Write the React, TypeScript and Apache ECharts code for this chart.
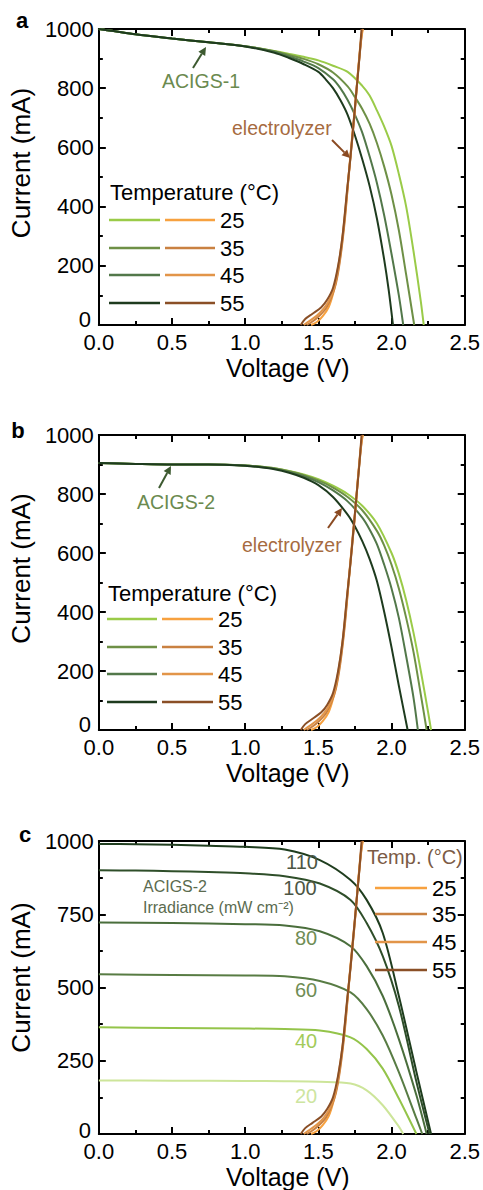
import React, { useEffect, useRef } from "react";
import * as echarts from "echarts";

// ---------- data ----------
const tempLabels = ["25", "35", "45", "55"];
const irrLabels = ["110", "100", "80", "60", "40", "20"];

// Panel a: ACIGS-1 I-V curves (V, mA)
const a25 = [[0, 1000], [0.1, 993], [0.25, 982], [0.5, 968], [0.75, 955], [1.0, 942], [1.2, 926], [1.3, 916], [1.4, 906], [1.5, 894], [1.6, 876], [1.7, 855], [1.8, 808], [1.85, 775], [1.9, 725], [1.95, 670], [2.0, 605], [2.05, 510], [2.1, 400], [2.15, 250], [2.2, 80], [2.22, 0]];
const a35 = [[0, 1000], [0.1, 993], [0.25, 982], [0.5, 968], [0.75, 955], [1.0, 942], [1.2, 925], [1.3, 912], [1.4, 899], [1.5, 881], [1.6, 853], [1.7, 806], [1.75, 770], [1.8, 730], [1.85, 680], [1.9, 615], [1.95, 535], [2.0, 440], [2.05, 320], [2.1, 170], [2.155, 0]];
const a45 = [[0, 1000], [0.1, 993], [0.25, 982], [0.5, 968], [0.75, 955], [1.0, 942], [1.2, 923], [1.3, 907], [1.4, 890], [1.5, 868], [1.6, 830], [1.65, 800], [1.7, 760], [1.75, 710], [1.8, 650], [1.85, 570], [1.9, 480], [1.95, 370], [2.0, 240], [2.05, 100], [2.08, 0]];
const a55 = [[0, 1000], [0.1, 993], [0.25, 982], [0.5, 968], [0.75, 955], [1.0, 941], [1.2, 920], [1.3, 902], [1.4, 881], [1.5, 855], [1.55, 830], [1.6, 800], [1.65, 760], [1.7, 710], [1.75, 640], [1.8, 560], [1.85, 470], [1.9, 360], [1.95, 220], [1.98, 120], [2.01, 0]];

// Panel b: ACIGS-2 I-V curves
const b25 = [[0, 905], [0.25, 902], [0.5, 900], [0.75, 900], [1.0, 897], [1.1, 893], [1.2, 887], [1.3, 878], [1.4, 866], [1.5, 850], [1.6, 828], [1.7, 800], [1.8, 760], [1.9, 700], [2.0, 600], [2.05, 530], [2.1, 440], [2.15, 330], [2.2, 200], [2.25, 60], [2.27, 0]];
const b35 = [[0, 905], [0.25, 902], [0.5, 900], [0.75, 900], [1.0, 897], [1.1, 893], [1.2, 887], [1.3, 877], [1.4, 864], [1.5, 846], [1.6, 822], [1.7, 790], [1.8, 745], [1.9, 675], [1.95, 625], [2.0, 560], [2.05, 480], [2.1, 380], [2.15, 265], [2.2, 120], [2.24, 0]];
const b45 = [[0, 905], [0.25, 902], [0.5, 900], [0.75, 900], [1.0, 897], [1.1, 892], [1.2, 886], [1.3, 875], [1.4, 860], [1.5, 840], [1.6, 812], [1.7, 775], [1.8, 720], [1.85, 680], [1.9, 630], [1.95, 560], [2.0, 480], [2.05, 380], [2.1, 250], [2.15, 110], [2.18, 0]];
const b55 = [[0, 905], [0.25, 902], [0.5, 900], [0.75, 900], [1.0, 896], [1.1, 891], [1.2, 884], [1.3, 872], [1.4, 855], [1.5, 830], [1.6, 790], [1.7, 730], [1.75, 690], [1.8, 640], [1.85, 580], [1.9, 505], [1.95, 400], [2.0, 280], [2.05, 150], [2.11, 0]];

// Panel c: ACIGS-2 at different irradiance (mW cm-2)
const c110 = [[0, 990], [0.25, 989], [0.5, 987], [0.75, 984], [1.0, 980], [1.27, 971], [1.51, 935], [1.72, 867], [1.83, 799], [1.94, 686], [2.05, 471], [2.17, 212], [2.27, 0]];
const c100 = [[0, 900], [0.25, 899], [0.5, 897], [0.75, 894], [1.0, 890], [1.27, 880], [1.51, 855], [1.72, 799], [1.83, 720], [1.94, 607], [2.05, 437], [2.17, 178], [2.26, 0]];
const c80 = [[0, 722], [0.5, 720], [1.0, 716], [1.27, 712], [1.51, 692], [1.72, 641], [1.83, 573], [1.94, 471], [2.05, 324], [2.17, 132], [2.24, 0]];
const c60 = [[0, 545], [0.5, 543], [1.0, 541], [1.27, 538], [1.51, 522], [1.72, 483], [1.83, 426], [1.94, 336], [2.05, 211], [2.17, 53], [2.21, 0]];
const c40 = [[0, 364], [0.5, 362], [1.0, 360], [1.27, 358], [1.51, 353], [1.72, 330], [1.83, 290], [1.94, 223], [2.05, 121], [2.17, 0]];
const c20 = [[0, 183], [0.5, 182], [1.0, 181], [1.27, 180], [1.51, 178], [1.72, 172], [1.83, 149], [1.94, 98], [2.05, 25], [2.08, 0]];

// Electrolyzer load curves at 25/35/45/55 °C
const e25 = [[1.45, 0], [1.49, 10], [1.53, 30], [1.57, 60], [1.6, 105], [1.63, 170], [1.66, 270], [1.69, 410], [1.715, 550], [1.735, 660], [1.755, 760], [1.775, 880], [1.79, 960], [1.805, 1000]];
const e35 = [[1.42, 0], [1.46, 12], [1.5, 28], [1.55, 55], [1.59, 95], [1.62, 140], [1.65, 225], [1.68, 350], [1.705, 490], [1.73, 620], [1.75, 730], [1.77, 850], [1.79, 950], [1.8, 1000]];
const e45 = [[1.4, 0], [1.44, 14], [1.49, 32], [1.54, 58], [1.58, 90], [1.61, 130], [1.64, 210], [1.67, 320], [1.7, 470], [1.725, 600], [1.745, 700], [1.765, 820], [1.785, 930], [1.8, 1000]];
const e55 = [[1.38, 0], [1.41, 20], [1.46, 38], [1.52, 60], [1.56, 85], [1.6, 125], [1.635, 200], [1.665, 300], [1.695, 450], [1.72, 570], [1.74, 680], [1.76, 790], [1.78, 900], [1.795, 1000]];

const xTicks = { min: 0, max: 2.5, interval: 0.5 };
const yZeroLabel = "0";

// ---------- styling ----------
const FONT = "'Liberation Sans', Arial, sans-serif";
const greenColors = ["#9acb48", "#6e9046", "#52784a", "#1e3b1e"];
const orangeColors = ["#f7a13f", "#c98141", "#e29549", "#8a4f26"];
const irrColors = ["#1f3d1e", "#2e4e29", "#4a6e3c", "#587c44", "#94c44a", "#cde59a"];
const irrTextColors = ["#4c5644", "#4c5644", "#6f8d55", "#6f8d55", "#a3cb5a", "#cde5a0"];

const grids = [
  { left: 96, top: 29, width: 370, height: 296 },
  { left: 96, top: 435, width: 370, height: 295 },
  { left: 96, top: 841, width: 370, height: 295 },
];

function xAxes(g: number) {
  const common = {
    type: "value",
    gridIndex: g,
    min: xTicks.min,
    max: xTicks.max,
    interval: xTicks.interval,
    axisLine: { show: true, onZero: false, lineStyle: { color: "#000", width: 2 } },
    axisTick: { show: true, inside: true, length: 7, lineStyle: { color: "#000", width: 2 } },
    minorTick: { show: true, splitNumber: 2, length: 4, lineStyle: { color: "#000", width: 2 } },
    splitLine: { show: false },
  };
  return [
    {
      ...common,
      position: "bottom",
      name: "Voltage (V)",
      nameLocation: "middle",
      nameGap: 30,
      nameTextStyle: { fontFamily: FONT, fontSize: 25, color: "#000", padding: [0, 0, 0, 12] },
      axisLabel: {
        fontFamily: FONT,
        fontSize: 22,
        color: "#000",
        margin: 6,
        formatter: (v: number) => v.toFixed(1),
      },
    },
    { ...common, position: "top", axisLabel: { show: false } },
  ];
}

function yAxes(g: number, interval: number, shift: number) {
  const common = {
    type: "value",
    gridIndex: g,
    min: 0,
    max: 1000,
    interval,
    axisLine: { show: true, onZero: false, lineStyle: { color: "#000", width: 2 } },
    axisTick: { show: true, inside: true, length: 7, lineStyle: { color: "#000", width: 2 } },
    minorTick: { show: true, splitNumber: 2, length: 4, lineStyle: { color: "#000", width: 2 } },
    splitLine: { show: false },
  };
  return [
    {
      ...common,
      position: "left",
      name: "Current (mA)",
      nameLocation: "middle",
      nameGap: 47,
      nameTextStyle: { fontFamily: FONT, fontSize: 26, color: "#000", padding: [0, 0, 0, shift] },
      axisLabel: {
        fontFamily: FONT,
        fontSize: 22,
        color: "#000",
        margin: 5,
        showMinLabel: false,
        formatter: (v: number) => String(v),
      },
    },
    { ...common, position: "right", axisLabel: { show: false } },
  ];
}

function line(name: string, data: number[][], color: string, g: number, width = 2) {
  return {
    type: "line",
    name,
    data,
    xAxisIndex: g * 2,
    yAxisIndex: g * 2,
    showSymbol: false,
    symbol: "none",
    smooth: 0.3,
    lineStyle: { color, width },
    z: 2,
  };
}

function arrow(x1: number, y1: number, x2: number, y2: number, color: string) {
  const ang = Math.atan2(y2 - y1, x2 - x1);
  const L = 8;
  const W = 4;
  const bx = x2 - L * Math.cos(ang);
  const by = y2 - L * Math.sin(ang);
  const px = -Math.sin(ang) * W;
  const py = Math.cos(ang) * W;
  return [
    { type: "line", shape: { x1, y1, x2: bx, y2: by }, style: { stroke: color, lineWidth: 2 }, z: 10 },
    {
      type: "polygon",
      shape: { points: [[x2, y2], [bx + px, by + py], [bx - px, by - py]] },
      style: { fill: color },
      z: 10,
    },
  ];
}

function txt(text: string, x: number, y: number, size: number, color: string, align = "left", weight = "normal") {
  return {
    type: "text",
    x,
    y,
    z: 10,
    style: {
      text,
      fill: color,
      font: `${weight} ${size}px ${FONT}`,
      textAlign: align,
      textVerticalAlign: "middle",
    },
  };
}

function tempLegend(titleX: number, titleY: number, rowsY: number[], greenX: number[], orangeX: number[], numX: number, withGreen: boolean, title: string, titleSize: number, titleColor: string) {
  const els: any[] = [txt(title, titleX, titleY, titleSize, titleColor)];
  rowsY.forEach((y, i) => {
    if (withGreen) {
      els.push({ type: "line", shape: { x1: greenX[0], y1: y, x2: greenX[1], y2: y }, style: { stroke: greenColors[i], lineWidth: 2.5 }, z: 10 });
    }
    els.push({ type: "line", shape: { x1: orangeX[0], y1: y, x2: orangeX[1], y2: y }, style: { stroke: orangeColors[i], lineWidth: 2.5 }, z: 10 });
    els.push(txt(tempLabels[i], numX, y, 22, "#000"));
  });
  return els;
}

export default function App() {
  const ref = useRef<HTMLDivElement>(null);

  useEffect(() => {
    document.body.style.margin = "0";
    if (!ref.current) return;
    const chart = echarts.init(ref.current, null, { renderer: "svg" });

    const aCells = [a25, a35, a45, a55];
    const bCells = [b25, b35, b45, b55];
    const elec = [e25, e35, e45, e55];
    const cCells = [c110, c100, c80, c60, c40, c20];

    const series: any[] = [];
    aCells.forEach((d, i) => series.push(line(`ACIGS-1 ${tempLabels[i]}`, d, greenColors[i], 0)));
    elec.forEach((d, i) => series.push(line(`electrolyzer a ${tempLabels[i]}`, d, orangeColors[i], 0)));
    bCells.forEach((d, i) => series.push(line(`ACIGS-2 ${tempLabels[i]}`, d, greenColors[i], 1)));
    elec.forEach((d, i) => series.push(line(`electrolyzer b ${tempLabels[i]}`, d, orangeColors[i], 1)));
    cCells.forEach((d, i) => series.push(line(`ACIGS-2 ${irrLabels[i]}`, d, irrColors[i], 2)));
    elec.forEach((d, i) => series.push(line(`electrolyzer c ${tempLabels[i]}`, d, orangeColors[i], 2)));

    const graphic: any[] = [
      txt("a", 22, 20, 22, "#000", "center", "bold"),
      txt("b", 18, 430, 22, "#000", "center", "bold"),
      txt("c", 25, 834, 22, "#000", "center", "bold"),
      // y-axis zero labels, nudged up so they sit just above the x-axis "0.0"
      txt(yZeroLabel, 91, 319, 22, "#000", "right"),
      txt(yZeroLabel, 91, 724, 22, "#000", "right"),
      txt(yZeroLabel, 91, 1130, 22, "#000", "right"),
      // panel a annotations
      txt("ACIGS-1", 162, 81, 19.5, "#6b8a4f"),
      ...arrow(193, 68, 206, 47, "#3d5a30"),
      txt("electrolyzer", 232, 128, 19.5, "#a66b3f"),
      ...arrow(332, 140, 350, 158, "#8a4a22"),
      ...tempLegend(110, 192, [220, 248, 275, 303], [109, 160], [165, 215], 220, true, "Temperature (°C)", 22, "#000"),
      // panel b annotations
      txt("ACIGS-2", 137, 502, 19.5, "#6b8a4f"),
      ...arrow(159, 488, 171, 466, "#3d5a30"),
      txt("electrolyzer", 242, 545, 19.5, "#a66b3f"),
      ...arrow(328, 528, 342, 508, "#8a4a22"),
      ...tempLegend(108, 593, [619, 647, 674, 702], [107, 157], [162, 213], 218, true, "Temperature (°C)", 22, "#000"),
      // panel c annotations
      txt("ACIGS-2", 143, 886, 16, "#5b6b4f"),
      txt("Irradiance (mW cm⁻²)", 143, 907, 16, "#5b6b4f"),
      txt("110", 302, 862, 20, irrTextColors[0], "center"),
      txt("100", 300, 888, 20, irrTextColors[1], "center"),
      txt("80", 306, 938, 20, irrTextColors[2], "center"),
      txt("60", 306, 990, 20, irrTextColors[3], "center"),
      txt("40", 306, 1041, 20, irrTextColors[4], "center"),
      txt("20", 306, 1096, 20, irrTextColors[5], "center"),
      ...tempLegend(367, 857, [888, 914, 942, 970], [0, 0], [375, 427], 432, false, "Temp. (°C)", 20, "#7b5b45"),
    ];

    chart.setOption({
      animation: false,
      backgroundColor: "#fff",
      grid: grids,
      xAxis: [...xAxes(0), ...xAxes(1), ...xAxes(2)],
      yAxis: [...yAxes(0, 200, 28), ...yAxes(1, 200, 28), ...yAxes(2, 250, 20)],
      series,
      graphic,
    });

    return () => chart.dispose();
  }, []);

  return <div ref={ref} style={{ width: 483, height: 1190 }} />;
}
